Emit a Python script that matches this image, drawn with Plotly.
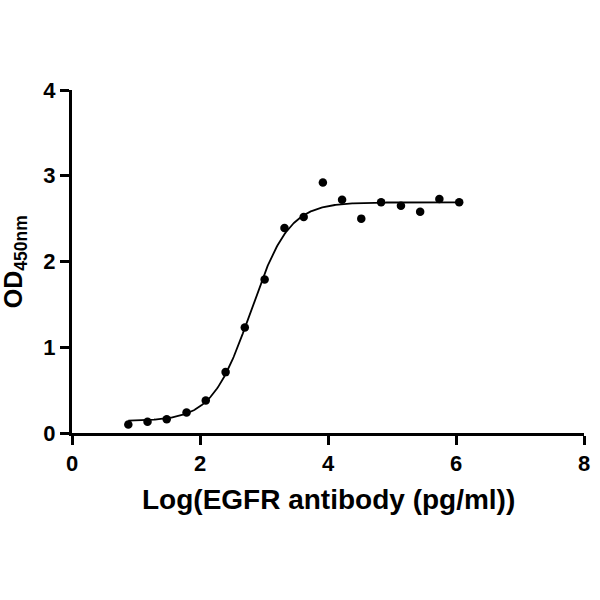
import numpy as np
import plotly.graph_objects as go

# Measured data (log10 concentration, OD450)
log_conc = [0.88, 1.18, 1.48, 1.79, 2.09, 2.40, 2.70, 3.01, 3.32,
            3.62, 3.92, 4.22, 4.52, 4.83, 5.14, 5.44, 5.74, 6.05]
od450 = [0.10, 0.13, 0.16, 0.24, 0.38, 0.71, 1.23, 1.79, 2.39,
         2.52, 2.92, 2.72, 2.50, 2.69, 2.65, 2.58, 2.73, 2.69]

# Four-parameter logistic fit parameters
fit_bottom = 0.14
fit_top = 2.69
fit_logec50 = 2.79
fit_hill = 1.45

x_ticks = [0, 2, 4, 6, 8]
y_ticks = [0, 1, 2, 3, 4]

xf = np.linspace(min(log_conc), max(log_conc), 400)
yf = fit_bottom + (fit_top - fit_bottom) / (1 + 10 ** (fit_hill * (fit_logec50 - xf)))

FONT = "Liberation Sans, Arial, sans-serif"

fig = go.Figure()
fig.add_trace(go.Scatter(x=xf, y=yf, mode="lines",
                         line=dict(color="black", width=1.8),
                         hoverinfo="skip", showlegend=False))
fig.add_trace(go.Scatter(x=log_conc, y=od450, mode="markers",
                         marker=dict(color="black", size=8.5),
                         showlegend=False))

axis_common = dict(showgrid=False, zeroline=False, showline=True,
                   linecolor="black", linewidth=3, ticks="outside",
                   ticklen=9, tickwidth=3, tickcolor="black",
                   tickfont=dict(family=FONT, size=22, color="black", weight="bold"))

fig.update_layout(
    width=600, height=600,
    paper_bgcolor="white", plot_bgcolor="white",
    margin=dict(l=72, r=10, t=90, b=167),
    xaxis=dict(range=[0, 8], tickvals=x_ticks, **axis_common),
    yaxis=dict(range=[0, 4], tickvals=y_ticks, **axis_common),
    annotations=[
        dict(text="Log(EGFR antibody (pg/ml))", xref="paper", yref="paper",
             x=0.5, y=-(499 - 433) / 343, xanchor="center", yanchor="middle",
             showarrow=False,
             font=dict(family=FONT, size=28, color="black", weight="bold")),
        dict(text="OD<sub>450nm</sub>", xref="paper", yref="paper",
             x=-(72 - 14) / 518, y=0.5, xanchor="center", yanchor="middle",
             textangle=-90, showarrow=False,
             font=dict(family=FONT, size=25, color="black", weight="bold")),
    ],
)

fig.write_html("out.html")
